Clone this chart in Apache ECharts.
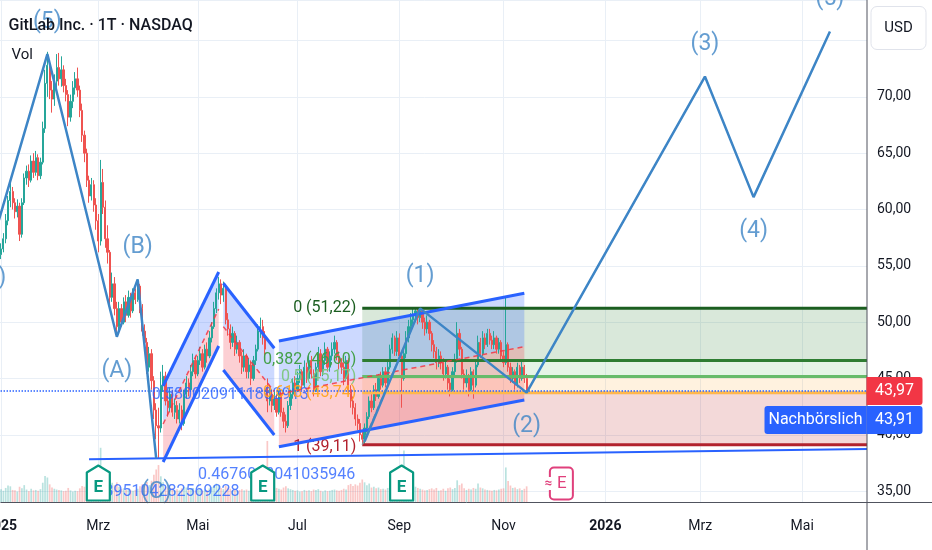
<!DOCTYPE html>
<html>
<head>
<meta charset="utf-8">
<script src="https://cdn.jsdelivr.net/npm/echarts@6/dist/echarts.min.js"></script>
<style>
  html, body { margin: 0; padding: 0; background: #fff; overflow: hidden; }
  /* the plot starts a few days before the visible left edge, so the canvas is pulled left */
  #chart { width: 950.5px; height: 550px; margin-left: -18.5px; }
</style>
</head>
<body>
<div id="chart"></div>
<script>
// --- axis setup ---
const firstCategory = '2024-12-23';
const categoryCount = 383;
const firstCandle = '2025-01-02';
const monthLabels = { '01': null, '03': 'Mrz', '05': 'Mai', '07': 'Jul', '09': 'Sep', '11': 'Nov' };
const priceMin = 34.03;
const priceMax = 78.6;
const volumeMax = 125;
const lastPrice = 43.97;
const postMarketPrice = 43.91;

// daily candles [open, close, low, high], from 2025-01-02
const ohlc = [
  [56.0,56.5,55.6,57.0],[56.5,57.4,56.2,57.9],[57.4,59.0,57.0,59.6],[59.0,60.8,58.6,61.2],[60.8,61.6,60.2,62.4],[61.6,60.6,60.0,62.0],
  [60.6,59.8,59.2,61.0],[59.8,60.3,59.3,60.9],[60.3,57.8,57.2,60.6],[57.8,60.6,57.5,61.0],[60.6,62.8,60.4,63.2],[62.8,63.4,62.2,63.9],
  [63.4,62.6,62.0,64.0],[62.6,64.3,62.4,64.8],[64.3,63.3,62.8,65.0],[63.3,64.6,63.0,65.2],[64.6,63.0,62.6,64.9],[63.0,64.2,62.7,64.6],
  [64.2,67.2,64.0,67.8],[67.2,71.2,66.8,72.4],[71.2,72.8,70.0,74.0],[72.8,70.6,69.8,73.2],[70.6,69.8,68.6,71.4],[69.8,71.4,69.2,72.0],
  [71.4,72.6,70.8,73.8],[72.6,71.6,71.0,73.9],[71.6,72.4,70.9,73.6],[72.4,71.0,70.4,72.8],[71.0,70.2,69.6,71.6],[70.2,68.2,67.4,70.6],
  [68.2,69.6,67.8,70.2],[69.6,70.8,69.0,71.4],[70.8,71.6,70.2,72.2],[71.6,70.6,70.0,72.6],[70.6,68.8,68.2,71.0],[68.8,66.6,66.0,69.4],
  [66.6,65.0,64.2,67.0],[65.0,62.6,62.0,65.4],[62.6,61.2,60.6,63.0],[61.2,62.2,60.8,62.8],[62.2,60.4,59.8,62.6],[60.4,59.0,58.2,61.0],
  [59.0,57.2,56.2,59.6],[57.2,62.4,56.8,64.4],[62.4,60.2,59.6,63.6],[60.2,57.4,56.6,60.8],[57.4,56.2,55.2,58.6],[56.2,52.2,51.6,56.4],
  [52.2,53.4,51.8,54.4],[53.4,51.2,50.6,54.0],[51.2,49.6,49.0,51.8],[49.6,51.2,49.2,51.8],[51.2,50.0,49.6,51.6],[50.0,51.8,49.8,52.2],
  [51.8,50.6,50.0,52.4],[50.6,52.2,50.4,52.8],[52.2,51.0,50.4,52.6],[51.0,52.6,50.8,53.0],[52.6,52.0,51.6,53.0],[52.0,53.2,51.8,53.8],
  [53.2,51.2,50.8,53.4],[51.2,49.2,48.8,51.6],[49.2,48.2,47.4,49.8],[48.2,46.0,45.4,48.6],[46.0,47.2,45.6,47.8],[47.2,44.8,44.0,47.6],
  [44.8,42.2,41.4,45.2],[42.2,40.8,39.6,42.8],[40.8,40.6,37.9,42.4],[40.6,44.4,40.2,45.6],[44.4,45.2,43.8,46.2],[45.2,43.0,42.6,45.6],
  [43.0,42.4,41.6,43.8],[42.4,43.6,42.0,44.2],[43.6,42.0,41.6,44.0],[42.0,42.6,41.4,43.2],[42.6,41.4,41.0,43.0],[41.4,42.2,41.0,42.8],
  [42.2,41.0,40.4,42.6],[41.0,43.6,40.8,44.0],[43.6,44.6,43.2,45.2],[44.6,44.0,43.4,45.0],[44.0,45.6,43.8,46.2],[45.6,46.6,45.2,47.2],
  [46.6,45.4,45.0,47.0],[45.4,46.6,45.2,47.0],[46.6,47.2,46.2,47.8],[47.2,46.0,45.6,47.6],[46.0,47.6,45.8,48.0],[47.6,47.0,46.4,48.2],
  [47.0,48.6,46.8,49.2],[48.6,49.6,48.2,50.0],[49.6,51.2,49.4,51.8],[51.2,52.6,50.8,53.0],[52.6,53.4,52.0,54.0],[53.4,52.4,51.6,53.8],
  [52.4,53.0,51.8,53.6],[53.0,50.2,49.8,53.2],[50.2,49.4,48.8,50.8],[49.4,48.2,47.6,49.8],[48.2,49.0,47.8,49.6],[49.0,47.6,47.0,49.2],
  [47.6,48.2,47.2,48.8],[48.2,47.0,46.4,48.4],[47.0,46.0,45.4,47.4],[46.0,47.0,45.6,47.6],[47.0,45.6,45.0,47.2],[45.6,46.2,45.0,46.8],
  [46.2,45.0,44.4,46.6],[45.0,46.6,44.8,47.0],[46.6,47.6,46.2,48.0],[47.6,49.2,47.4,49.8],[49.2,49.6,48.6,50.4],[49.6,48.6,48.0,50.2],
  [48.6,47.6,46.8,49.2],[44.2,43.0,42.0,45.0],[43.0,43.6,42.6,44.4],[43.6,42.6,42.0,44.0],[42.6,43.2,42.2,43.8],[43.2,42.0,41.6,43.6],
  [42.0,43.6,41.8,44.0],[43.6,42.0,41.6,43.8],[42.0,41.2,40.6,42.4],[41.2,40.8,40.2,41.8],[40.8,42.6,40.6,43.0],[42.6,43.6,42.2,44.0],
  [43.6,44.6,43.2,45.0],[44.6,44.0,43.4,45.2],[44.0,45.0,43.8,45.6],[45.0,45.6,44.6,46.2],[45.6,44.4,44.0,45.8],[44.4,46.0,44.2,46.6],
  [46.0,45.0,44.6,46.4],[45.0,46.6,44.8,47.2],[46.6,45.4,45.0,47.0],[45.4,44.0,43.4,45.8],[44.0,46.0,43.8,46.4],[46.0,47.2,45.6,47.8],
  [47.2,45.6,45.2,47.6],[45.6,46.6,45.2,47.0],[46.6,47.6,46.2,48.2],[47.6,46.0,45.6,47.8],[46.0,47.0,45.6,47.4],[47.0,47.6,46.6,48.2],
  [47.6,48.2,47.2,48.8],[48.2,47.0,46.6,48.4],[47.0,46.4,45.8,47.4],[46.4,46.0,45.4,46.8],[46.0,45.0,44.4,46.4],[45.0,46.6,44.8,47.0],
  [46.6,44.0,43.6,46.8],[44.0,43.0,42.4,44.4],[43.0,42.4,41.8,43.4],[42.4,41.4,40.8,42.8],[41.4,41.0,40.4,41.8],[41.0,40.0,39.4,41.4],
  [40.0,39.6,39.11,40.4],[39.6,40.6,39.2,41.0],[40.6,41.6,40.2,42.0],[41.6,43.0,41.4,43.4],[43.0,42.4,42.0,43.6],[42.4,44.0,42.2,44.4],
  [44.0,43.4,43.0,44.6],[43.4,45.0,43.2,45.4],[45.0,44.4,44.0,45.6],[44.4,45.6,44.2,46.0],[45.6,44.6,44.2,46.0],[44.6,46.0,44.4,46.6],
  [46.0,47.6,45.8,48.0],[47.6,48.6,47.2,49.0],[48.6,47.4,47.0,48.8],[47.4,48.6,47.0,49.2],[48.6,47.0,46.6,49.0],[47.0,45.0,42.4,47.4],
  [45.0,47.2,44.8,47.8],[47.2,48.6,46.8,49.2],[48.6,49.6,48.2,50.2],[49.6,50.2,49.2,50.8],[50.2,50.6,49.8,51.2],[50.6,51.0,50.0,51.22],
  [51.0,50.4,49.8,51.2],[50.4,51.0,50.0,51.22],[51.0,50.0,49.4,51.2],[50.0,49.4,48.8,50.4],[49.4,50.0,49.0,50.6],[50.0,49.0,48.4,50.2],
  [49.0,48.0,47.4,49.2],[48.0,47.4,46.8,48.4],[47.4,46.4,45.8,47.8],[46.4,47.0,46.0,47.6],[47.0,46.4,45.8,47.4],[46.4,45.4,44.8,46.8],
  [45.4,46.0,45.0,46.6],[46.0,44.6,44.0,46.2],[44.6,44.0,43.4,45.0],[44.0,45.6,43.8,46.0],[45.6,46.6,45.2,47.2],[46.6,49.0,46.4,50.0],
  [49.0,47.6,47.0,49.4],[47.6,45.4,45.0,47.8],[45.4,44.6,44.0,45.8],[44.6,45.2,44.2,45.8],[45.2,44.0,43.4,45.4],[44.0,45.6,43.8,46.0],
  [45.6,44.4,43.2,45.8],[44.4,46.2,44.2,46.6],[46.2,48.2,46.0,48.8],[48.2,47.2,46.8,48.6],[47.2,48.6,47.0,49.2],[48.6,48.0,47.6,49.0],
  [48.0,49.0,47.8,49.4],[49.0,48.4,48.0,49.4],[48.4,48.0,47.6,48.8],[48.0,48.6,47.6,49.2],[48.6,47.6,47.2,48.8],[47.6,48.2,47.2,48.6],
  [48.2,47.0,46.6,48.4],[47.0,46.4,46.0,47.4],[46.4,48.0,46.2,52.2],[48.0,46.0,45.6,48.2],[46.0,45.0,44.6,46.4],[45.0,45.6,44.6,46.0],
  [45.6,44.4,44.0,45.8],[44.4,46.0,44.2,46.4],[46.0,45.0,44.6,46.2],[45.0,46.0,44.8,46.6],[46.0,45.0,44.6,46.2],[45.0,43.97,43.7,45.4]
];

// daily volume, millions
const volume = [
  3.2,2.8,3.5,4.1,3.9,3.0,2.9,2.6,3.8,3.4,4.2,3.1,
  2.7,3.3,2.9,3.0,2.8,3.2,4.8,6.5,6.1,4.4,3.6,3.3,
  3.1,3.0,2.9,2.7,2.8,3.5,2.9,2.6,2.8,2.7,3.4,4.0,
  3.8,4.5,3.9,3.1,3.6,3.9,5.2,13.5,7.2,5.1,4.6,6.3,
  4.8,4.2,4.9,3.8,3.2,3.4,3.0,3.1,2.9,2.8,3.0,3.3,
  3.9,4.4,4.1,5.0,4.2,5.3,6.8,8.1,9.2,6.4,4.9,3.8,
  3.6,3.3,3.5,3.0,3.2,2.9,3.4,3.8,3.6,3.1,3.3,3.5,
  2.9,3.0,3.2,2.8,3.1,2.9,3.4,3.8,4.2,4.6,4.1,3.5,
  3.2,4.0,3.6,3.3,2.9,3.1,2.8,3.0,3.2,2.9,3.1,2.8,
  3.0,3.2,3.4,3.9,3.6,3.3,5.4,15.2,7.4,4.6,3.8,3.5,
  3.3,3.1,3.6,3.9,3.4,3.2,3.0,2.8,2.9,2.6,2.7,3.0,
  2.8,2.9,2.7,3.1,3.0,3.2,2.8,2.6,2.9,2.7,2.8,3.0,
  3.1,2.9,2.8,3.0,3.3,3.1,4.2,4.5,4.0,4.4,4.1,4.8,
  5.6,4.9,4.2,4.6,3.6,3.8,3.4,3.6,3.2,3.3,3.1,3.5,
  3.8,3.6,3.2,3.4,3.6,5.8,12.8,6.4,4.4,3.9,3.6,3.8,
  3.5,3.3,3.1,2.9,3.0,3.2,3.4,3.1,3.5,2.8,2.9,3.3,
  2.8,3.4,3.6,3.2,3.5,5.4,4.2,4.6,3.4,3.0,3.3,3.1,
  3.5,3.3,4.6,3.6,3.4,3.1,3.0,2.9,2.8,3.0,2.9,3.1,
  3.3,3.4,8.6,5.2,4.1,3.5,3.6,3.2,3.4,3.0,3.3,3.9
];

// Elliott waves [date, price, label]
const correctionWaves = [
  ['2024-12-27', 56.9, '(4)'], ['2025-01-30', 73.8, '(5)'], ['2025-03-13', 48.7, '(A)'],
  ['2025-03-26', 53.8, '(B)'], ['2025-04-07', 37.9, '(C)']
];
const impulseWaves = [
  ['2025-08-11', 39.4, ''], ['2025-09-12', 51.22, '(1)'], ['2025-11-17', 43.74, '(2)'],
  ['2026-03-04', 71.8, '(3)'], ['2026-04-02', 61.1, '(4)'], ['2026-05-19', 75.8, '(5)']
];

// regression trend channels
const channelFrom = ['2025-04-10', '2025-05-16', '2025-06-19'];
const channelTo = ['2025-05-14', '2025-06-17', '2025-11-14'];
const channelUpper = [[44.33, 54.45], [53.45, 47.68], [48.32, 52.56]];
const channelLower = [[37.58, 47.88], [45.75, 39.98], [38.94, 43.09]];
const pearsonR = ['0.395104282569228', '0.4676023041035946', '0.5800209111882913'];
const pearsonAt = [['2025-04-11', 34.92], ['2025-06-18', 36.43], ['2025-05-21', 43.53]];

// fibonacci retracement
const fibFrom = '2025-08-08';
const fibTo = '2025-09-12';
const fibHigh = 51.224;
const fibLow = 39.11;
const fibLevels = [0, 0.382, 0.5, 0.618, 1];
const fibLineColors = ['#1b5e20', '#2e7d32', '#66bb6a', '#ffb74d', '#b2222e'];
const fibTextColors = ['#1b5e20', '#43a047', '#81c784', '#ffa726', '#b2222e'];
const fibFillColors = ['rgba(46,125,50,0.18)', 'rgba(102,187,106,0.17)', 'rgba(255,167,38,0.15)', 'rgba(183,28,28,0.17)'];

// support trend line (null = right edge)
const supportLine = [['2025-02-25', 37.82], [null, 38.73]];

// earnings dates
const earningsDates = ['2025-03-03', '2025-06-10', '2025-09-02', '2025-12-08'];

// --- build the weekday calendar ---
const categories = [];
(function () {
  const d = new Date(firstCategory + 'T00:00:00Z');
  while (categories.length < categoryCount) {
    const wd = d.getUTCDay();
    if (wd !== 0 && wd !== 6) categories.push(d.toISOString().slice(0, 10));
    d.setUTCDate(d.getUTCDate() + 1);
  }
})();
const catIndex = {};
categories.forEach((c, i) => { catIndex[c] = i; });
const idx = d => (d === null ? categoryCount - 1 : catIndex[d]);
const lastIdx = categoryCount - 1;
const candleStart = idx(firstCandle);
const lastCandleIdx = candleStart + ohlc.length - 1;

// month label positions: first trading day of each odd month
const labelIdx = new Set();
const seenMonth = {};
categories.forEach((c, i) => {
  const ym = c.slice(0, 7);
  if (i === 0) { seenMonth[ym] = true; return; }
  if (c.endsWith('-01-01') || seenMonth[ym]) return;
  seenMonth[ym] = true;
  if (c.slice(5, 7) in monthLabels) labelIdx.add(i);
});

const fibPrice = l => fibHigh - l * (fibHigh - fibLow);
const comma = v => v.toFixed(2).replace('.', ',');
const fibText = l => String(l).replace('.', ',') + ' (' + comma(fibPrice(l)) + ')';

function waveLabelItems(waves) {
  const out = [];
  waves.forEach((w, i) => {
    if (!w[2]) return;
    const ref = i > 0 ? waves[i - 1][1] : waves[i + 1][1];
    const peak = w[1] > ref;
    out.push({
      name: w[2],
      value: [idx(w[0]), w[1]],
      label: { position: peak ? 'top' : 'bottom', distance: peak ? 20 : 22 }
    });
  });
  return out;
}

function channelPoints(api, i) {
  const a = idx(channelFrom[i]), b = idx(channelTo[i]);
  const u0 = api.coord([a, channelUpper[i][0]]), u1 = api.coord([b, channelUpper[i][1]]);
  const l0 = api.coord([a, channelLower[i][0]]), l1 = api.coord([b, channelLower[i][1]]);
  const m0 = [(u0[0] + l0[0]) / 2, (u0[1] + l0[1]) / 2];
  const m1 = [(u1[0] + l1[0]) / 2, (u1[1] + l1[1]) / 2];
  return { u0, u1, l0, l1, m0, m1 };
}

const upColor = '#26a69a', downColor = '#ef5350';
const waveColor = '#3d85c6';
const gridColor = '#e9eff6';
const font = 'Roboto, "Noto Sans", sans-serif';
const ox = 18.5; // canvas offset against the page

const chart = echarts.init(document.getElementById('chart'));

const option = {
  animation: false,
  backgroundColor: '#ffffff',
  textStyle: { fontFamily: font },
  grid: { left: 0, right: 66, top: 0, bottom: 48 },
  xAxis: {
    type: 'category',
    data: categories,
    boundaryGap: false,
    axisLine: { show: false },
    axisTick: { show: false },
    axisLabel: {
      interval: i => labelIdx.has(i),
      margin: 17,
      color: '#131722',
      fontSize: 14,
      fontFamily: font,
      formatter: v => {
        const m = v.slice(5, 7);
        if (!(m in monthLabels)) return '';
        return m === '01' ? '{y|' + v.slice(0, 4) + '}' : monthLabels[m];
      },
      rich: { y: { fontWeight: 'bold', fontSize: 14, color: '#131722', fontFamily: font } }
    },
    splitLine: { show: true, interval: i => labelIdx.has(i), lineStyle: { color: gridColor, width: 1 } }
  },
  yAxis: [
    {
      type: 'value',
      position: 'right',
      min: priceMin,
      max: priceMax,
      splitNumber: 9,
      axisLine: { show: false },
      axisTick: { show: false },
      axisLabel: {
        margin: 10,
        color: '#131722',
        fontSize: 14,
        fontFamily: font,
        formatter: v => (Math.abs(v / 5 - Math.round(v / 5)) < 1e-6 && v <= 70 ? comma(v) : '')
      },
      splitLine: { lineStyle: { color: gridColor, width: 1 } }
    },
    { type: 'value', min: 0, max: volumeMax, show: false }
  ],
  series: [
    // fibonacci zones
    {
      type: 'custom', z: 1, silent: true, clip: true,
      data: fibFillColors.map((c, i) => [idx(fibFrom), fibPrice(fibLevels[i])]),
      renderItem: (params, api) => {
        const i = params.dataIndex;
        const p1 = api.coord([idx(fibFrom), fibPrice(fibLevels[i])]);
        const p2 = api.coord([lastIdx, fibPrice(fibLevels[i + 1])]);
        return {
          type: 'rect',
          shape: { x: p1[0], y: p1[1], width: p2[0] - p1[0], height: p2[1] - p1[1] },
          style: { fill: fibFillColors[i] }
        };
      }
    },
    // regression channel fills
    {
      type: 'custom', z: 2, silent: true, clip: true,
      data: channelFrom.map((d, i) => [idx(d), channelUpper[i][0]]),
      renderItem: (params, api) => {
        const c = channelPoints(api, params.dataIndex);
        return {
          type: 'group',
          children: [
            { type: 'polygon', shape: { points: [c.u0, c.u1, c.m1, c.m0] }, style: { fill: 'rgba(41,98,255,0.24)' } },
            { type: 'polygon', shape: { points: [c.m0, c.m1, c.l1, c.l0] }, style: { fill: 'rgba(242,54,69,0.24)' } }
          ]
        };
      }
    },
    // pearson's R labels
    {
      type: 'scatter', z: 3, silent: true,
      symbolSize: 1,
      itemStyle: { color: 'rgba(0,0,0,0)' },
      data: pearsonAt.map((p, i) => ({ name: pearsonR[i], value: [idx(p[0]), p[1]] })),
      label: { show: true, position: 'inside', formatter: '{b}', color: '#2962ff', fontSize: 16, fontFamily: font }
    },
    // volume
    {
      type: 'bar', yAxisIndex: 1, z: 2, silent: true,
      barWidth: 1.7,
      data: volume.map((v, i) => ({
        value: [candleStart + i, v],
        itemStyle: { color: ohlc[i][1] >= ohlc[i][0] ? 'rgba(38,166,154,0.32)' : 'rgba(239,83,80,0.32)' }
      }))
    },
    // candles
    {
      type: 'candlestick', z: 3, silent: true,
      barWidth: 1.7,
      encode: { x: 0, y: [1, 2, 3, 4] },
      data: ohlc.map((d, i) => [candleStart + i, d[0], d[1], d[2], d[3]]),
      itemStyle: { color: upColor, color0: downColor, borderColor: upColor, borderColor0: downColor, borderWidth: 1 },
      markLine: {
        silent: true,
        symbol: ['none', 'none'],
        label: { show: false },
        lineStyle: { color: '#2962ff', type: 'dotted', width: 1.5 },
        data: [{ yAxis: postMarketPrice }]
      }
    },
    // fibonacci level lines and labels
    {
      type: 'custom', z: 4, silent: true, clip: false,
      data: fibLevels.map(l => [idx(fibFrom), fibPrice(l)]),
      renderItem: (params, api) => {
        const i = params.dataIndex;
        const p = fibPrice(fibLevels[i]);
        const a = api.coord([idx(fibFrom), p]);
        const b = api.coord([lastIdx, p]);
        return {
          type: 'group',
          children: [
            { type: 'line', shape: { x1: a[0], y1: a[1], x2: b[0], y2: b[1] }, style: { stroke: fibLineColors[i], lineWidth: 3 } },
            {
              type: 'text', x: a[0] - 6, y: a[1] + (i === fibLevels.length - 1 ? 2 : 0),
              style: { text: fibText(fibLevels[i]), fill: fibTextColors[i], font: '16px ' + font, align: 'right', verticalAlign: 'middle' }
            }
          ]
        };
      }
    },
    // fibonacci trend line
    {
      type: 'line', z: 4, silent: true, symbol: 'none',
      data: [[idx(fibFrom), fibLow], [idx(fibTo), fibHigh]],
      lineStyle: { color: '#8a8d96', width: 1.5, type: 'dashed' }
    },
    // regression channel lines
    {
      type: 'custom', z: 5, silent: true, clip: true,
      data: channelFrom.map((d, i) => [idx(d), channelUpper[i][0]]),
      renderItem: (params, api) => {
        const c = channelPoints(api, params.dataIndex);
        return {
          type: 'group',
          children: [
            { type: 'line', shape: { x1: c.u0[0], y1: c.u0[1], x2: c.u1[0], y2: c.u1[1] }, style: { stroke: '#2962ff', lineWidth: 3 } },
            { type: 'line', shape: { x1: c.l0[0], y1: c.l0[1], x2: c.l1[0], y2: c.l1[1] }, style: { stroke: '#2962ff', lineWidth: 3 } },
            { type: 'line', shape: { x1: c.m0[0], y1: c.m0[1], x2: c.m1[0], y2: c.m1[1] }, style: { stroke: 'rgba(242,54,69,0.85)', lineWidth: 1.5, lineDash: [5, 4] } }
          ]
        };
      }
    },
    // support line
    {
      type: 'line', z: 5, silent: true, symbol: 'none',
      data: supportLine.map(p => [idx(p[0]), p[1]]),
      lineStyle: { color: '#2962ff', width: 2 }
    },
    // Elliott waves
    {
      type: 'line', z: 6, silent: true, symbol: 'none',
      data: correctionWaves.map(w => [idx(w[0]), w[1]]),
      lineStyle: { color: waveColor, width: 2.5 }
    },
    {
      type: 'line', z: 6, silent: true, symbol: 'none',
      data: impulseWaves.map(w => [idx(w[0]), w[1]]),
      lineStyle: { color: waveColor, width: 2.5 }
    },
    {
      type: 'scatter', z: 7, silent: true,
      symbolSize: 1,
      itemStyle: { color: 'rgba(0,0,0,0)' },
      data: waveLabelItems(correctionWaves).concat(waveLabelItems(impulseWaves)),
      label: { show: true, formatter: '{b}', color: waveColor, fontSize: 23, fontFamily: font }
    },
    // earnings badges
    {
      type: 'custom', z: 8, silent: true, clip: false,
      data: earningsDates.map(d => [idx(d), priceMin]),
      renderItem: (params, api) => {
        const di = idx(earningsDates[params.dataIndex]);
        const x = api.coord([di, priceMin])[0];
        const yb = api.coord([di, priceMin])[1] - 1.5;
        if (di > lastCandleIdx) {
          const pink = '#e0407c';
          return {
            type: 'group',
            children: [
              { type: 'rect', shape: { x: x - 11.5, y: yb - 33, width: 23, height: 32, r: 4 }, style: { fill: '#fff', stroke: pink, lineWidth: 2 } },
              { type: 'text', x: x + 0.5, y: yb - 17, style: { text: 'E', fill: pink, font: '17px ' + font, align: 'center', verticalAlign: 'middle' } },
              { type: 'text', x: x - 13, y: yb - 17, style: { text: '≈', fill: pink, font: 'bold 13px ' + font, align: 'center', verticalAlign: 'middle', backgroundColor: '#fff' } }
            ]
          };
        }
        const teal = '#089981';
        return {
          type: 'group',
          children: [
            {
              type: 'polygon',
              shape: { points: [[x, yb - 35], [x + 11.5, yb - 28], [x + 11.5, yb], [x - 11.5, yb], [x - 11.5, yb - 28]] },
              style: { fill: '#fff', stroke: teal, lineWidth: 2.2, lineJoin: 'round' }
            },
            { type: 'text', x: x, y: yb - 13, style: { text: 'E', fill: teal, font: 'bold 17px ' + font, align: 'center', verticalAlign: 'middle' } }
          ]
        };
      }
    }
  ]
};

chart.setOption(option);

// frame, title and price tags (page pixels shifted by the canvas offset)
const yLast = chart.convertToPixel({ yAxisIndex: 0 }, lastPrice);
const axisColor = '#50535e';
chart.setOption({
  graphic: [
    { type: 'line', z: 50, silent: true, shape: { x1: ox, y1: 502.5, x2: ox + 932, y2: 502.5 }, style: { stroke: axisColor, lineWidth: 1 } },
    { type: 'line', z: 50, silent: true, shape: { x1: ox + 866.5, y1: 0, x2: ox + 866.5, y2: 550 }, style: { stroke: axisColor, lineWidth: 1 } },
    { type: 'text', z: 100, x: ox + 8, y: 18, style: { text: 'GitLab Inc. · 1T · NASDAQ', fill: '#131722', font: '500 16px ' + font } },
    { type: 'text', z: 100, x: ox + 11, y: 48, style: { text: 'Vol', fill: '#131722', font: '15px ' + font } },
    { type: 'rect', z: 100, shape: { x: ox + 870.5, y: 6.5, width: 55, height: 43, r: 6 }, style: { fill: '#fff', stroke: '#e0e3eb', lineWidth: 1 } },
    { type: 'text', z: 101, x: ox + 898, y: 28, style: { text: 'USD', fill: '#131722', font: '15px ' + font, align: 'center', verticalAlign: 'middle' } },
    { type: 'rect', z: 100, shape: { x: ox + 866, y: yLast - 13, width: 56, height: 28, r: [0, 3, 3, 0] }, style: { fill: '#f23645' } },
    { type: 'text', z: 101, x: ox + 894, y: yLast + 1, style: { text: comma(lastPrice), fill: '#fff', font: '16px ' + font, align: 'center', verticalAlign: 'middle' } },
    { type: 'rect', z: 100, shape: { x: ox + 764, y: yLast + 16, width: 102, height: 28, r: [3, 0, 0, 3] }, style: { fill: '#2962ff' } },
    { type: 'text', z: 101, x: ox + 815, y: yLast + 30, style: { text: 'Nachbörslich', fill: '#fff', font: '16px ' + font, align: 'center', verticalAlign: 'middle' } },
    { type: 'rect', z: 100, shape: { x: ox + 866, y: yLast + 16, width: 56, height: 28, r: [0, 3, 3, 0] }, style: { fill: '#2962ff' } },
    { type: 'text', z: 101, x: ox + 894, y: yLast + 30, style: { text: comma(postMarketPrice), fill: '#fff', font: '16px ' + font, align: 'center', verticalAlign: 'middle' } }
  ]
});
</script>
</body>
</html>
